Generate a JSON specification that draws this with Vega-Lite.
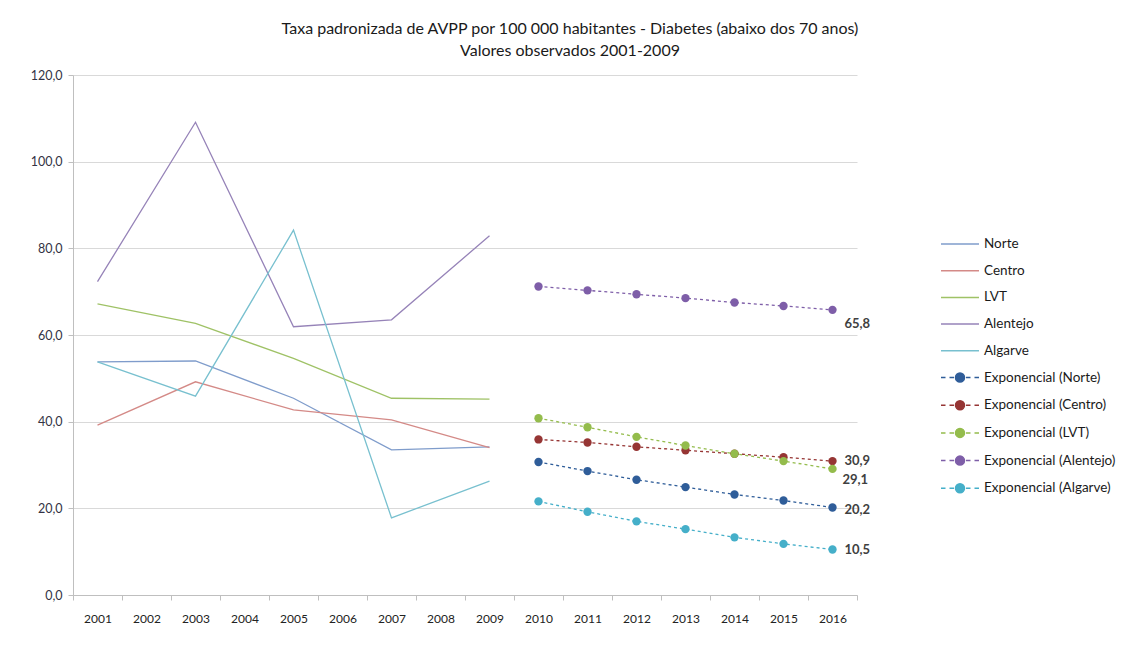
{
  "$schema": "https://vega.github.io/schema/vega-lite/v6.json",
  "autosize": {"type": "none"},
  "padding": {"left": 73, "top": 75, "right": 269, "bottom": 63},
  "width": 784,
  "height": 520,
  "background": "white",
  "config": {
    "font": "Lato",
    "locale": {"number": {"decimal": ",", "thousands": " ", "grouping": [3], "currency": ["", " €"]}},
    "view": {"stroke": null}
  },
  "title": {
    "text": ["Taxa padronizada de AVPP por 100 000 habitantes - Diabetes (abaixo dos 70 anos)", "Valores observados 2001-2009"],
    "anchor": "middle",
    "frame": "group",
    "dx": 105,
    "offset": 10,
    "fontSize": 16,
    "fontWeight": "normal",
    "lineHeight": 22,
    "color": "#1a1a1a",
    "font": "Lato"
  },
  "data": {"values": [
    {"ano": "2001", "serie": "Norte", "tipo": "observado", "valor": 53.8},
    {"ano": "2003", "serie": "Norte", "tipo": "observado", "valor": 54.0},
    {"ano": "2005", "serie": "Norte", "tipo": "observado", "valor": 45.4},
    {"ano": "2007", "serie": "Norte", "tipo": "observado", "valor": 33.5},
    {"ano": "2009", "serie": "Norte", "tipo": "observado", "valor": 34.2},
    {"ano": "2001", "serie": "Centro", "tipo": "observado", "valor": 39.2},
    {"ano": "2003", "serie": "Centro", "tipo": "observado", "valor": 49.2},
    {"ano": "2005", "serie": "Centro", "tipo": "observado", "valor": 42.7},
    {"ano": "2007", "serie": "Centro", "tipo": "observado", "valor": 40.4},
    {"ano": "2009", "serie": "Centro", "tipo": "observado", "valor": 34.0},
    {"ano": "2001", "serie": "LVT", "tipo": "observado", "valor": 67.2},
    {"ano": "2003", "serie": "LVT", "tipo": "observado", "valor": 62.7},
    {"ano": "2005", "serie": "LVT", "tipo": "observado", "valor": 54.6},
    {"ano": "2007", "serie": "LVT", "tipo": "observado", "valor": 45.4},
    {"ano": "2009", "serie": "LVT", "tipo": "observado", "valor": 45.2},
    {"ano": "2001", "serie": "Alentejo", "tipo": "observado", "valor": 72.3},
    {"ano": "2003", "serie": "Alentejo", "tipo": "observado", "valor": 109.1},
    {"ano": "2005", "serie": "Alentejo", "tipo": "observado", "valor": 61.9},
    {"ano": "2007", "serie": "Alentejo", "tipo": "observado", "valor": 63.5},
    {"ano": "2009", "serie": "Alentejo", "tipo": "observado", "valor": 82.9},
    {"ano": "2001", "serie": "Algarve", "tipo": "observado", "valor": 53.8},
    {"ano": "2003", "serie": "Algarve", "tipo": "observado", "valor": 45.9},
    {"ano": "2005", "serie": "Algarve", "tipo": "observado", "valor": 84.2},
    {"ano": "2007", "serie": "Algarve", "tipo": "observado", "valor": 17.8},
    {"ano": "2009", "serie": "Algarve", "tipo": "observado", "valor": 26.3},
    {"ano": "2010", "serie": "Exponencial (Norte)", "tipo": "tendencia", "valor": 30.7},
    {"ano": "2011", "serie": "Exponencial (Norte)", "tipo": "tendencia", "valor": 28.6},
    {"ano": "2012", "serie": "Exponencial (Norte)", "tipo": "tendencia", "valor": 26.6},
    {"ano": "2013", "serie": "Exponencial (Norte)", "tipo": "tendencia", "valor": 24.9},
    {"ano": "2014", "serie": "Exponencial (Norte)", "tipo": "tendencia", "valor": 23.2},
    {"ano": "2015", "serie": "Exponencial (Norte)", "tipo": "tendencia", "valor": 21.8},
    {"ano": "2016", "serie": "Exponencial (Norte)", "tipo": "tendencia", "valor": 20.2},
    {"ano": "2010", "serie": "Exponencial (Centro)", "tipo": "tendencia", "valor": 35.9},
    {"ano": "2011", "serie": "Exponencial (Centro)", "tipo": "tendencia", "valor": 35.2},
    {"ano": "2012", "serie": "Exponencial (Centro)", "tipo": "tendencia", "valor": 34.2},
    {"ano": "2013", "serie": "Exponencial (Centro)", "tipo": "tendencia", "valor": 33.4},
    {"ano": "2014", "serie": "Exponencial (Centro)", "tipo": "tendencia", "valor": 32.6},
    {"ano": "2015", "serie": "Exponencial (Centro)", "tipo": "tendencia", "valor": 31.8},
    {"ano": "2016", "serie": "Exponencial (Centro)", "tipo": "tendencia", "valor": 30.9},
    {"ano": "2010", "serie": "Exponencial (LVT)", "tipo": "tendencia", "valor": 40.8},
    {"ano": "2011", "serie": "Exponencial (LVT)", "tipo": "tendencia", "valor": 38.7},
    {"ano": "2012", "serie": "Exponencial (LVT)", "tipo": "tendencia", "valor": 36.5},
    {"ano": "2013", "serie": "Exponencial (LVT)", "tipo": "tendencia", "valor": 34.5},
    {"ano": "2014", "serie": "Exponencial (LVT)", "tipo": "tendencia", "valor": 32.6},
    {"ano": "2015", "serie": "Exponencial (LVT)", "tipo": "tendencia", "valor": 30.9},
    {"ano": "2016", "serie": "Exponencial (LVT)", "tipo": "tendencia", "valor": 29.1},
    {"ano": "2010", "serie": "Exponencial (Alentejo)", "tipo": "tendencia", "valor": 71.2},
    {"ano": "2011", "serie": "Exponencial (Alentejo)", "tipo": "tendencia", "valor": 70.3},
    {"ano": "2012", "serie": "Exponencial (Alentejo)", "tipo": "tendencia", "valor": 69.4},
    {"ano": "2013", "serie": "Exponencial (Alentejo)", "tipo": "tendencia", "valor": 68.5},
    {"ano": "2014", "serie": "Exponencial (Alentejo)", "tipo": "tendencia", "valor": 67.5},
    {"ano": "2015", "serie": "Exponencial (Alentejo)", "tipo": "tendencia", "valor": 66.7},
    {"ano": "2016", "serie": "Exponencial (Alentejo)", "tipo": "tendencia", "valor": 65.8},
    {"ano": "2010", "serie": "Exponencial (Algarve)", "tipo": "tendencia", "valor": 21.6},
    {"ano": "2011", "serie": "Exponencial (Algarve)", "tipo": "tendencia", "valor": 19.2},
    {"ano": "2012", "serie": "Exponencial (Algarve)", "tipo": "tendencia", "valor": 17.0},
    {"ano": "2013", "serie": "Exponencial (Algarve)", "tipo": "tendencia", "valor": 15.2},
    {"ano": "2014", "serie": "Exponencial (Algarve)", "tipo": "tendencia", "valor": 13.3},
    {"ano": "2015", "serie": "Exponencial (Algarve)", "tipo": "tendencia", "valor": 11.8},
    {"ano": "2016", "serie": "Exponencial (Algarve)", "tipo": "tendencia", "valor": 10.5}
  ]},
  "encoding": {
    "x": {
      "field": "ano", "type": "ordinal",
      "scale": {"type": "band", "domain": ["2001","2002","2003","2004","2005","2006","2007","2008","2009","2010","2011","2012","2013","2014","2015","2016"], "paddingInner": 0, "paddingOuter": 0},
      "bandPosition": 0.5,
      "axis": {"title": null, "labelAngle": 0, "tickBand": "extent", "domainColor": "#bfbfbf", "tickColor": "#bfbfbf", "tickSize": 5, "labelPadding": 13, "labelFontSize": 12, "labelColor": "#222222", "labelFont": "Lato", "grid": false}
    },
    "y": {
      "field": "valor", "type": "quantitative",
      "scale": {"domain": [0, 120], "nice": false},
      "axis": {"title": null, "values": [0,20,40,60,80,100,120], "format": ".1f", "gridColor": "#d9d9d9", "domainColor": "#bfbfbf", "tickColor": "#bfbfbf", "tickSize": 5, "labelPadding": 6, "labelFontSize": 12.5, "labelColor": "#333344", "labelFont": "Lato"}
    },
    "color": {
      "field": "serie", "type": "nominal",
      "scale": {
        "domain": ["Norte","Centro","LVT","Alentejo","Algarve","Exponencial (Norte)","Exponencial (Centro)","Exponencial (LVT)","Exponencial (Alentejo)","Exponencial (Algarve)"],
        "range": ["#7f9ccb","#d48a87","#9fc266","#9683b8","#78c0cf","#2f5d99","#963534","#94bc4c","#7e5ea8","#45afc9"]
      },
      "legend": {
        "title": null,
        "orient": "none",
        "legendX": 876,
        "legendY": 158,
        "symbolSize": 400,
        "rowPadding": 8.7,
        "labelOffset": 13,
        "labelFontSize": 13.5,
        "labelFont": "Lato",
        "labelColor": "#1a1a1a",
        "labelLimit": 300,
        "encode": {
          "symbols": {
            "update": {
              "shape": {"signal": "indexof(datum.value, 'Exponencial') === 0 ? 'M-1.9,0H-1.45M-1.05,0H-0.6M0.6,0H1.05M1.45,0H1.9M0.45,0A0.45,0.45 0 1,1 -0.45,0A0.45,0.45 0 1,1 0.45,0Z' : 'M-1.9,0H1.9'"},
              "fill": {"signal": "indexof(datum.value, 'Exponencial') === 0 ? scale('color', datum.value) : 'transparent'"},
              "stroke": {"signal": "scale('color', datum.value)"},
              "strokeWidth": {"value": 1.5},
              "opacity": {"value": 1}
            }
          }
        }
      }
    }
  },
  "layer": [
    {
      "transform": [{"filter": "datum.tipo === 'observado'"}],
      "mark": {"type": "line", "strokeWidth": 1.3}
    },
    {
      "transform": [{"filter": "datum.tipo === 'tendencia'"}],
      "mark": {"type": "line", "strokeWidth": 1.3, "strokeDash": [3, 3]}
    },
    {
      "transform": [{"filter": "datum.tipo === 'tendencia'"}],
      "mark": {"type": "point", "filled": true, "size": 70, "opacity": 1}
    },
    {
      "transform": [{"filter": "datum.ano === '2016' && (datum.serie === 'Exponencial (Centro)' || datum.serie === 'Exponencial (Algarve)')"}],
      "mark": {"type": "text", "align": "left", "dx": 12, "dy": 0, "fontSize": 13, "font": "Lato", "fontWeight": "bold"},
      "encoding": {"text": {"field": "valor", "type": "quantitative", "format": ".1f"}, "color": {"value": "#404040"}}
    },
    {
      "transform": [{"filter": "datum.ano === '2016' && datum.serie === 'Exponencial (Norte)'"}],
      "mark": {"type": "text", "align": "left", "dx": 12, "dy": 3, "fontSize": 13, "font": "Lato", "fontWeight": "bold"},
      "encoding": {"text": {"field": "valor", "type": "quantitative", "format": ".1f"}, "color": {"value": "#404040"}}
    },
    {
      "transform": [{"filter": "datum.ano === '2016' && datum.serie === 'Exponencial (LVT)'"}],
      "mark": {"type": "text", "align": "left", "dx": 10, "dy": 11, "fontSize": 13, "font": "Lato", "fontWeight": "bold"},
      "encoding": {"text": {"field": "valor", "type": "quantitative", "format": ".1f"}, "color": {"value": "#404040"}}
    },
    {
      "transform": [{"filter": "datum.ano === '2016' && datum.serie === 'Exponencial (Alentejo)'"}],
      "mark": {"type": "text", "align": "left", "dx": 12, "dy": 14, "fontSize": 13, "font": "Lato", "fontWeight": "bold"},
      "encoding": {"text": {"field": "valor", "type": "quantitative", "format": ".1f"}, "color": {"value": "#404040"}}
    }
  ]
}
